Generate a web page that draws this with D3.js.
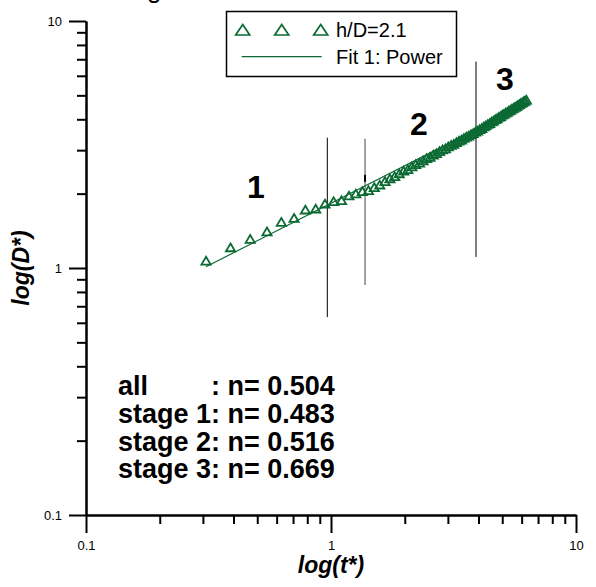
<!DOCTYPE html>
<html>
<head>
  <meta charset="utf-8">
  <script src="https://d3js.org/d3.v7.min.js"></script>
  <style>
    body { margin: 0; background: #fff; }
    svg text { font-family: "Liberation Sans", Arial, sans-serif; fill: #000; }
    .axis path, .axis line { stroke: #000; stroke-width: 2px; fill: none; }
    .axis text { font-size: 13px; font-family: "Liberation Sans", Arial, sans-serif; }
  </style>
</head>
<body>
  <div id="chart"></div>
  <script>
    // measured data, h/D = 2.1
    const tVals = [0.309, 0.389, 0.468, 0.548, 0.627, 0.707, 0.786, 0.866, 0.945, 1.025,
      1.104, 1.184, 1.263, 1.343, 1.422, 1.502, 1.581, 1.661, 1.740, 1.820,
      1.899, 1.979, 2.058, 2.138, 2.217, 2.297, 2.376, 2.456, 2.535, 2.615,
      2.694, 2.774, 2.853, 2.933, 3.012, 3.092, 3.171, 3.251, 3.330, 3.410,
      3.489, 3.569, 3.648, 3.728, 3.807, 3.887, 3.966, 4.046, 4.125, 4.205,
      4.284, 4.364, 4.443, 4.523, 4.602, 4.682, 4.761, 4.841, 4.920, 5.000,
      5.079, 5.159, 5.238, 5.318, 5.397, 5.477, 5.556, 5.636, 5.715, 5.795,
      5.874, 5.954, 6.033, 6.113, 6.192, 6.272];
    const dVals = [1.068, 1.209, 1.307, 1.403, 1.532, 1.591, 1.719, 1.735, 1.818, 1.858,
      1.875, 1.959, 1.996, 2.040, 2.060, 2.118, 2.170, 2.240, 2.300, 2.345,
      2.410, 2.468, 2.505, 2.570, 2.625, 2.660, 2.720, 2.775, 2.810, 2.870,
      2.905, 2.960, 3.010, 3.040, 3.095, 3.140, 3.172, 3.225, 3.270, 3.300,
      3.350, 3.395, 3.425, 3.475, 3.505, 3.555, 3.590, 3.640, 3.675, 3.730,
      3.765, 3.815, 3.850, 3.905, 3.935, 3.990, 4.020, 4.075, 4.105, 4.160,
      4.190, 4.240, 4.270, 4.320, 4.350, 4.400, 4.430, 4.480, 4.510, 4.560,
      4.590, 4.640, 4.665, 4.715, 4.745, 4.790];

    // power fit, end points
    const fitT = [0.309, 6.272];
    const fitD = [1.012, 4.616];

    // stage boundaries: t, D from, D to
    const stageT = [0.966, 1.377, 3.907];
    const stageD0 = [0.633, 0.853, 1.108];
    const stageD1 = [3.37, 3.34, 6.85];

    const stageLabels = ["1", "2", "3"];
    const stageLabelT = [0.494, 2.287, 5.13];
    const stageLabelD = [1.923, 3.447, 5.24];

    const statNames = ["all", "stage 1", "stage 2", "stage 3"];
    const statN = ["0.504", "0.483", "0.516", "0.669"];

    const majorTicks = [0.1, 1, 10];
    const minorTicks = [0.2, 0.3, 0.4, 0.5, 0.6, 0.7, 0.8, 0.9, 2, 3, 4, 5, 6, 7, 8, 9];

    const green = "#0b6a33";
    const W = 596, H = 587;

    const svg = d3.select("#chart").append("svg")
      .attr("width", W)
      .attr("height", H);

    const x = d3.scaleLog().domain([0.1, 10]).range([86, 576]);
    const y = d3.scaleLog().domain([0.1, 10]).range([515, 21]);

    // partly cut off title
    svg.append("text")
      .attr("x", 147).attr("y", -2.5)
      .style("font-size", "26px")
      .text("g");

    // axes: minor ticks then major ticks with labels
    svg.append("g").attr("class", "axis")
      .attr("transform", "translate(0,515)")
      .call(d3.axisBottom(x).tickValues(minorTicks).tickSize(9).tickSizeOuter(0).tickFormat(""));
    svg.append("g").attr("class", "axis")
      .attr("transform", "translate(0,515)")
      .call(d3.axisBottom(x).tickValues(majorTicks).tickSize(18).tickSizeOuter(0).tickPadding(8).tickFormat(d3.format("")));

    svg.append("g").attr("class", "axis")
      .attr("transform", "translate(86,0)")
      .call(d3.axisLeft(y).tickValues(minorTicks).tickSize(9).tickSizeOuter(0).tickFormat(""));
    svg.append("g").attr("class", "axis")
      .attr("transform", "translate(86,0)")
      .call(d3.axisLeft(y).tickValues(majorTicks).tickSize(17).tickSizeOuter(0).tickPadding(7).tickFormat(d3.format("")));

    // axis titles
    svg.append("text")
      .attr("x", 331).attr("y", 573)
      .attr("text-anchor", "middle")
      .style("font-size", "23px").style("font-weight", "bold").style("font-style", "italic")
      .text("log(t*)");

    svg.append("text")
      .attr("transform", "translate(29,268) rotate(-90)")
      .attr("text-anchor", "middle")
      .style("font-size", "23px").style("font-weight", "bold").style("font-style", "italic")
      .text("log(D*)");

    // stage boundary lines
    stageT.forEach((t, i) => {
      svg.append("line")
        .attr("x1", x(t)).attr("x2", x(t))
        .attr("y1", y(stageD0[i])).attr("y2", y(stageD1[i]))
        .attr("stroke", i === 1 ? "#7a7a7a" : "#000")
        .attr("stroke-width", i === 1 ? 1.4 : 1);
    });
    // small dark mark on the middle line
    svg.append("line")
      .attr("x1", x(stageT[1])).attr("x2", x(stageT[1]))
      .attr("y1", y(2.384)).attr("y2", y(2.233))
      .attr("stroke", "#000").attr("stroke-width", 2);

    // stage labels
    stageLabels.forEach((s, i) => {
      svg.append("text")
        .attr("x", x(stageLabelT[i])).attr("y", y(stageLabelD[i]))
        .attr("text-anchor", "middle")
        .style("font-size", "32px").style("font-weight", "bold")
        .text(s);
    });

    // data points
    const tri = "M0,-4.2L4.6,3.6L-4.6,3.6Z";
    const data = tVals.map((t, i) => ({ t: t, d: dVals[i] }));
    svg.append("g").selectAll("path")
      .data(data)
      .join("path")
        .attr("d", tri)
        .attr("transform", d => `translate(${x(d.t)},${y(d.d)})`)
        .attr("fill", "none")
        .attr("stroke", green)
        .attr("stroke-width", 1.8);

    // fit line
    const fitLine = d3.line().x(d => x(d[0])).y(d => y(d[1]));
    svg.append("path")
      .datum(fitT.map((t, i) => [t, fitD[i]]))
      .attr("d", fitLine)
      .attr("fill", "none")
      .attr("stroke", green)
      .attr("stroke-width", 1.2);

    // legend
    const legend = svg.append("g");
    legend.append("rect")
      .attr("x", 226.5).attr("y", 11.5).attr("width", 230).attr("height", 65)
      .attr("fill", "#fff").attr("stroke", "#000").attr("stroke-width", 1.5);
    [242.7, 281.7, 320.7].forEach(cx => {
      legend.append("path")
        .attr("d", "M0,-5.5L7,5L-7,5Z")
        .attr("transform", `translate(${cx},30)`)
        .attr("fill", "none").attr("stroke", green).attr("stroke-width", 1.7);
    });
    legend.append("text").attr("x", 336).attr("y", 37)
      .style("font-size", "20px").text("h/D=2.1");
    legend.append("line")
      .attr("x1", 241.7).attr("x2", 321.7).attr("y1", 56.7).attr("y2", 56.7)
      .attr("stroke", green).attr("stroke-width", 1.2);
    legend.append("text").attr("x", 336).attr("y", 64)
      .style("font-size", "20px").text("Fit 1: Power");

    // exponents
    const stats = svg.append("g")
      .style("font-size", "27px").style("font-weight", "bold");
    let lineEnd = 338;
    statNames.forEach((s, i) => {
      const yy = 395 + i * 27.8;
      if (i === 0) {
        stats.append("text").attr("x", 118).attr("y", yy).text(s);
      } else {
        const t = stats.append("text").attr("x", 118).attr("y", yy)
          .text(s + ": n= " + statN[i]);
        lineEnd = 118 + t.node().getComputedTextLength();
      }
    });
    stats.append("text").attr("x", lineEnd).attr("y", 395)
      .attr("text-anchor", "end")
      .text(": n= " + statN[0]);
  </script>
</body>
</html>
